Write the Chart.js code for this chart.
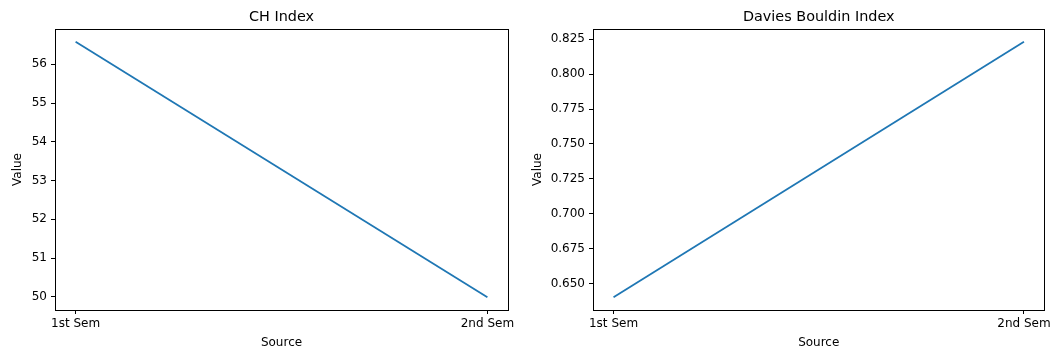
<!DOCTYPE html>
<html>
<head>
<meta charset="utf-8">
<script src="https://cdn.jsdelivr.net/npm/chart.js@4/dist/chart.umd.min.js"></script>
<style>
  html, body { margin: 0; padding: 0; background: #fff; }
  body { width: 1054px; height: 352px; position: relative; overflow: hidden; }
  .panel { position: absolute; top: 0; height: 352px; }
  #chLeft { left: 0; width: 520px; }
  #chRight { left: 520px; width: 534px; }
</style>
</head>
<body>
<div class="panel" id="chLeft"><canvas id="chCanvas"></canvas></div>
<div class="panel" id="chRight"><canvas id="dbCanvas"></canvas></div>
<script>
// Semesters compared on the x axis
const sources = ['1st Sem', '2nd Sem'];

// Calinski-Harabasz index per semester
const chValues = [56.58, 49.99];
const chTicks = [50, 51, 52, 53, 54, 55, 56];

// Davies-Bouldin index per semester
const dbValues = [0.6404, 0.8231];
const dbTicks = [0.650, 0.675, 0.700, 0.725, 0.750, 0.775, 0.800, 0.825];

const FONT = "'DejaVu Sans', sans-serif";
const INK = '#000';
const LINE = '#1f77b4';

// Frame the whole plot area (all four sides)
const framePlugin = {
  id: 'frame',
  afterDraw(chart) {
    const { ctx, chartArea: a } = chart;
    ctx.save();
    ctx.strokeStyle = INK;
    ctx.lineWidth = 1;
    ctx.strokeRect(Math.round(a.left) + 0.5, Math.round(a.top) + 0.5,
                   Math.round(a.right - a.left), Math.round(a.bottom - a.top));
    ctx.restore();
  }
};

// Axes title centred over the plot area rather than the whole canvas
const axesTitlePlugin = {
  id: 'axesTitle',
  afterDraw(chart, args, opts) {
    const { ctx, chartArea: a } = chart;
    ctx.save();
    ctx.fillStyle = INK;
    ctx.font = `14.4px ${FONT}`;
    ctx.textAlign = 'center';
    ctx.textBaseline = 'middle';
    ctx.fillText(opts.text, (a.left + a.right) / 2, opts.y);
    ctx.restore();
  }
};

function padRange(values) {
  const lo = Math.min(...values), hi = Math.max(...values);
  const m = (hi - lo) * 0.05;
  return [lo - m, hi + m];
}

function makeChart(canvasId, title, values, ticks, yAxisWidth, rightPad, decimals) {
  const [ymin, ymax] = padRange(values);
  const data = values.map((v, i) => ({ x: i, y: v }));
  return new Chart(document.getElementById(canvasId), {
    type: 'line',
    data: {
      datasets: [{
        data,
        borderColor: LINE,
        borderWidth: 1.8,
        pointRadius: 0,
        tension: 0,
        fill: false
      }]
    },
    plugins: [framePlugin, axesTitlePlugin],
    options: {
      responsive: true,
      maintainAspectRatio: false,
      animation: false,
      layout: { padding: { left: 0, right: rightPad, top: 29, bottom: 0 } },
      plugins: {
        legend: { display: false },
        tooltip: { enabled: false },
        title: { display: false },
        axesTitle: { text: title, y: 17 }
      },
      scales: {
        x: {
          type: 'linear',
          min: -0.05,
          max: 1.05,
          border: { display: false },
          grid: { drawOnChartArea: false, drawTicks: true, tickLength: 4, color: INK },
          afterBuildTicks(scale) { scale.ticks = sources.map((_, i) => ({ value: i })); },
          afterFit(scale) { scale.height = 42; },
          ticks: {
            color: INK,
            padding: 3,
            maxRotation: 0,
            autoSkip: false,
            font: { family: FONT, size: 12 },
            callback: (v) => sources[v]
          },
          title: {
            display: true,
            text: 'Source',
            color: INK,
            font: { family: FONT, size: 12 },
            padding: { top: 0, bottom: 2 }
          }
        },
        y: {
          type: 'linear',
          min: ymin,
          max: ymax,
          border: { display: false },
          grid: { drawOnChartArea: false, drawTicks: true, tickLength: 4, color: INK },
          afterBuildTicks(scale) { scale.ticks = ticks.map(v => ({ value: v })); },
          afterFit(scale) { scale.width = yAxisWidth; },
          ticks: {
            color: INK,
            padding: 4,
            font: { family: FONT, size: 12 },
            callback: (v) => v.toFixed(decimals)
          },
          title: {
            display: true,
            text: 'Value',
            color: INK,
            font: { family: FONT, size: 12 },
            padding: { top: 10.5, bottom: 0 }
          }
        }
      }
    }
  });
}

makeChart('chCanvas', 'CH Index', chValues, chTicks, 55, 12, 0);
makeChart('dbCanvas', 'Davies Bouldin Index', dbValues, dbTicks, 73, 8, 3);
</script>
</body>
</html>
